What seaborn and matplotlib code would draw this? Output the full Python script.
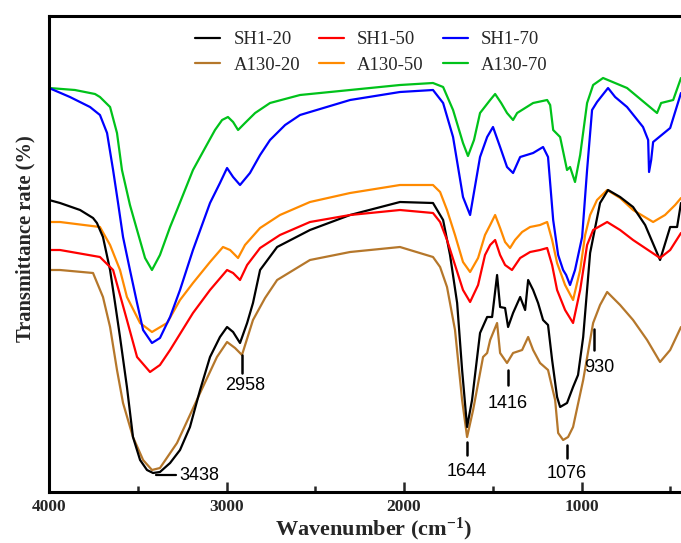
import numpy as np
import pandas as pd
import matplotlib
matplotlib.use("Agg")
import matplotlib.pyplot as plt
import seaborn as sns

# ---------------- data (wavenumber cm-1, transmittance a.u.) ----------------
sh1_20_w = [4000, 3938, 3825, 3752, 3730, 3696, 3656, 3628, 3600, 3561, 3527, 3487, 3448, 3414,
            3375, 3318, 3262, 3206, 3149, 3093, 3037, 2997, 2963, 2924, 2884, 2851, 2811, 2715,
            2530, 2304, 2023, 1837, 1780, 1741, 1701, 1673, 1645, 1617, 1572, 1532, 1504, 1476,
            1459, 1431, 1414, 1386, 1346, 1318, 1301, 1273, 1245, 1217, 1189, 1166, 1138, 1121,
            1082, 1048, 1020, 991, 952, 896, 851, 783, 710, 642, 558, 501, 462, 440]
sh1_20_t = [292, 289, 282, 274, 269, 255, 222, 189, 155, 105, 55, 32, 22, 19,
            20, 29, 42, 65, 102, 135, 155, 165, 160, 149, 169, 189, 222, 245,
            262, 277, 290, 289, 272, 237, 189, 122, 65, 92, 159, 175, 175, 217,
            185, 184, 165, 179, 195, 182, 212, 202, 189, 172, 167, 132, 95, 85,
            89, 105, 117, 155, 239, 289, 302, 295, 285, 267, 232, 265, 265, 289]

sh1_50_w = [4000, 3938, 3713, 3639, 3561, 3504, 3431, 3375, 3318, 3189, 3093, 2997, 2963, 2924,
            2884, 2811, 2699, 2530, 2304, 2023, 1837, 1797, 1758, 1713, 1668, 1628, 1583, 1544,
            1515, 1487, 1459, 1431, 1392, 1346, 1290, 1234, 1194, 1166, 1138, 1093, 1048, 1008,
            969, 935, 856, 783, 710, 558, 501, 440]
sh1_50_t = [242, 242, 235, 222, 172, 135, 120, 127, 142, 179, 202, 222, 219, 212,
            227, 244, 257, 270, 277, 282, 279, 270, 252, 227, 202, 190, 207, 237,
            247, 252, 237, 227, 222, 234, 240, 242, 244, 227, 202, 182, 169, 202,
            247, 262, 270, 262, 252, 234, 242, 259]

sh1_70_w = [4000, 3882, 3769, 3713, 3673, 3639, 3611, 3583, 3544, 3504, 3470, 3420, 3375, 3318,
            3262, 3189, 3093, 3037, 2997, 2963, 2924, 2868, 2811, 2755, 2670, 2586, 2304, 2023,
            1837, 1780, 1724, 1668, 1628, 1572, 1532, 1499, 1459, 1420, 1386, 1346, 1273, 1217,
            1189, 1160, 1132, 1104, 1087, 1065, 1037, 997, 969, 941, 913, 851, 811, 744, 654,
            625, 620, 608, 597, 501, 440]
sh1_70_t = [404, 395, 385, 377, 359, 322, 289, 255, 222, 189, 162, 149, 154, 175,
            202, 242, 289, 309, 324, 315, 307, 319, 337, 352, 367, 377, 392, 400,
            402, 389, 355, 295, 277, 335, 355, 365, 345, 325, 319, 335, 339, 345,
            335, 272, 237, 222, 217, 207, 222, 255, 322, 382, 390, 404, 395, 385, 365,
            352, 320, 332, 350, 364, 399]

a130_20_w = [4000, 3938, 3752, 3696, 3656, 3617, 3583, 3527, 3470, 3420, 3375, 3279, 3206, 3149,
             3054, 2997, 2952, 2913, 2851, 2783, 2715, 2530, 2304, 2023, 1837, 1797, 1758, 1713,
             1673, 1645, 1611, 1555, 1532, 1515, 1476, 1459, 1420, 1386, 1335, 1301, 1273, 1234,
             1189, 1149, 1132, 1104, 1076, 1048, 991, 935, 896, 856, 783, 710, 631, 558, 501,
             440]
a130_20_t = [222, 222, 219, 195, 165, 122, 89, 55, 32, 22, 24, 49, 77, 99,
             135, 150, 144, 137, 172, 194, 212, 232, 240, 245, 235, 225, 205, 162,
             92, 55, 82, 135, 139, 152, 169, 139, 129, 139, 142, 155, 142, 129,
             122, 92, 59, 52, 55, 65, 112, 169, 187, 200, 187, 172, 152, 130, 142,
             165]

a130_50_w = [4000, 3938, 3713, 3656, 3600, 3561, 3487, 3420, 3335, 3262, 3189, 3093, 3020, 2980,
             2935, 2896, 2811, 2699, 2530, 2304, 2023, 1837, 1797, 1758, 1713, 1668, 1628, 1583,
             1544, 1515, 1487, 1459, 1431, 1403, 1375, 1335, 1290, 1234, 1194, 1166, 1138, 1093,
             1048, 1008, 980, 952, 913, 856, 783, 710, 597, 530, 473, 440]
a130_50_t = [270, 270, 265, 247, 222, 195, 169, 160, 169, 192, 209, 230, 245, 242,
             234, 247, 264, 277, 290, 299, 307, 307, 300, 282, 257, 230, 220, 234,
             257, 267, 277, 264, 250, 244, 252, 260, 265, 267, 270, 252, 229, 207,
             192, 222, 257, 277, 292, 302, 294, 282, 270, 277, 287, 294]

a130_70_w = [4000, 3854, 3741, 3713, 3656, 3617, 3589, 3544, 3504, 3459, 3420, 3375, 3318, 3279,
             3234, 3189, 3121, 3065, 3025, 2992, 2963, 2935, 2896, 2839, 2755, 2586, 2304, 2023,
             1837, 1780, 1724, 1668, 1640, 1606, 1572, 1515, 1487, 1453, 1420, 1386, 1363, 1273,
             1194, 1177, 1160, 1121, 1082, 1065, 1037, 1008, 969, 935, 879, 744, 575, 552, 484,
             440]
a130_70_t = [404, 402, 398, 395, 385, 359, 322, 287, 262, 234, 222, 237, 265, 282,
             302, 322, 344, 362, 372, 375, 370, 362, 369, 379, 389, 397, 402, 407,
             409, 405, 382, 349, 336, 352, 379, 392, 398, 389, 379, 372, 379, 389,
             392, 387, 362, 355, 322, 325, 310, 337, 389, 407, 414, 404, 379, 389, 392,
             414]

series = {
    "SH1-20": (sh1_20_w, sh1_20_t),
    "SH1-50": (sh1_50_w, sh1_50_t),
    "SH1-70": (sh1_70_w, sh1_70_t),
    "A130-20": (a130_20_w, a130_20_t),
    "A130-50": (a130_50_w, a130_50_t),
    "A130-70": (a130_70_w, a130_70_t),
}
colors = {
    "SH1-20": "#000000", "SH1-50": "#FF0000", "SH1-70": "#0000FF",
    "A130-20": "#B5772B", "A130-50": "#FF8A00", "A130-70": "#00C21A",
}
draw_order = ["A130-20", "A130-50", "A130-70", "SH1-20", "SH1-50", "SH1-70"]
legend_order = ["SH1-20", "A130-20", "SH1-50", "A130-50", "SH1-70", "A130-70"]

# peak labels: text, wavenumber of marker line, line bottom/top, text position
peak_labels = [
    ("2958", 2913, 119, 137, 2895, 107),
    ("1644", 1645, 37, 50, 1650, 20),
    ("1416", 1414, 107, 122, 1414, 89),
    ("1076", 1082, 34, 47, 1082, 19),
    ("930", 930, 142, 163, 902, 125),
]

rows = []
for name in draw_order:
    w, t = series[name]
    for a, b in zip(w, t):
        rows.append((name, a, b))
df = pd.DataFrame(rows, columns=["sample", "wavenumber", "T"])

# ---------------- plot ----------------
sns.set_theme(style="white")
plt.rcParams["font.family"] = ["Liberation Serif", "DejaVu Serif"]
plt.rcParams["mathtext.fontset"] = "custom"
plt.rcParams["mathtext.rm"] = "Liberation Serif"
plt.rcParams["mathtext.bf"] = "Liberation Serif:bold"
plt.rcParams["mathtext.it"] = "Liberation Serif:italic"

fig = plt.figure(figsize=(6.81, 5.43), dpi=100)
ax = fig.add_axes([49 / 681, 51 / 543, 1 - 49 / 681, 476 / 543])

sns.lineplot(data=df, x="wavenumber", y="T", hue="sample", hue_order=draw_order,
             palette=colors, sort=False, estimator=None, lw=1.6, ax=ax, legend=False,
             solid_joinstyle="round")

ax.set_xlim(4000, 440)
ax.set_ylim(0, 476)
ax.set_xticks([4000, 3000, 2000, 1000])
ax.set_xticks([3500, 2500, 1500, 500], minor=True)
ax.set_yticks([])
ax.tick_params(axis="x", which="major", direction="in", length=7, width=1.8, pad=5,
               labelsize=12.5, bottom=True)
ax.tick_params(axis="x", which="minor", direction="in", length=4, width=1.8, bottom=True)
for lab in ax.get_xticklabels():
    lab.set_fontweight("bold")
for s in ["left", "bottom", "top"]:
    ax.spines[s].set_visible(True)
    ax.spines[s].set_linewidth(2.2)
    ax.spines[s].set_color("black")
ax.spines["right"].set_visible(False)

ax.set_xlabel("Wavenumber (cm$\\mathbf{^{-1}}$)", fontsize=16, fontweight="bold")
ax.xaxis.set_label_coords((374 - 49) / 632, -(535 - 492) / 476)
ax.xaxis.label.set_va("baseline")
ax.set_ylabel("Transmittance rate (%)", fontsize=14.8, fontweight="bold")
ax.yaxis.set_label_coords(-(49 - 25) / 632, (492 - 239) / 476)
ax.yaxis.label.set_va("center")

# legend
line_by_name = {name: ax.get_lines()[i] for i, name in enumerate(draw_order)}
handles = [line_by_name[n] for n in legend_order]
ax.legend(handles, legend_order, loc="upper left", bbox_to_anchor=(195 / 681, 1 - 31 / 543),
          bbox_transform=fig.transFigure, ncol=3, frameon=False, fontsize=13.5,
          borderpad=0, borderaxespad=0, handlelength=1.35, handletextpad=0.7,
          columnspacing=1.0, labelspacing=0.45)

# peak annotations
afont = dict(family=["Liberation Sans", "DejaVu Sans"], fontsize=13, color="black")
ax.plot([3400, 3282], [17, 17], color="black", lw=1.6)
ax.text(3268, 17, "3438", ha="left", va="center", **afont)
for txt, wx, y0, y1, tx, ty in peak_labels:
    ax.plot([wx, wx], [y0, y1], color="black", lw=1.8)
    ax.text(tx, ty, txt, ha="center", va="center", **afont)

fig.savefig("out.png", dpi=100)
